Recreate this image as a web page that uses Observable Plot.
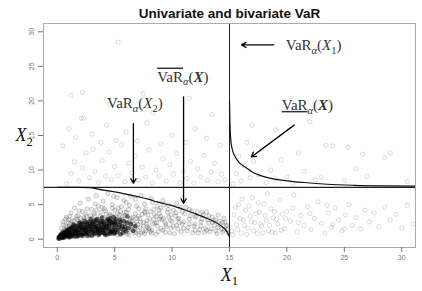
<!DOCTYPE html>
<html><head><meta charset="utf-8">
<script src="https://cdn.jsdelivr.net/npm/d3@7"></script>
<script src="https://cdn.jsdelivr.net/npm/@observablehq/plot@0.6"></script>
<style>body{margin:0;background:#fff}</style>
</head><body><div id="chart"></div>
<script>
const title = "Univariate and bivariate VaR";
const xTicks = [0, 5, 10, 15, 20, 25, 30];
const yTicks = [0, 5, 10, 15, 20, 25, 30];
const varX1 = 15, varX2 = 7.5;

// dense core of the sample
const corePts = [[0.1,0.1],[0.2,0.3],[0.3,0.2],[0.4,0.5],[0.5,0.3],[0.6,0.8],[0.7,0.4],[0.8,1.1],[0.9,0.6],[1.0,0.3],[1.0,1.4],[1.1,0.9],[1.2,0.5],[1.3,1.7],[1.4,1.1],[1.5,0.4],[1.5,2.0],[1.6,0.8],[1.7,1.4],[1.8,0.6],[1.9,2.3],[2.0,1.0],[2.1,1.8],[2.2,0.5],[2.3,1.3],[2.4,2.6],[2.5,0.8],[2.6,2.0],[2.7,1.5],[2.8,0.6],[2.9,2.9],[3.0,1.1],[3.1,2.2],[3.2,0.7],[3.3,1.7],[3.4,2.8],[3.5,1.2],[3.6,0.6],[3.7,2.4],[3.8,1.6],[3.9,3.1],[4.0,0.9],[4.1,2.0],[4.2,1.3],[4.3,2.7],[4.4,0.7],[4.5,1.8],[4.6,3.0],[4.7,1.1],[4.8,2.3],[4.9,0.8],[5.0,1.6],[5.1,2.9],[5.2,1.0],[5.4,2.1],[5.5,0.7],[5.6,1.5],[5.8,2.6],[6.0,1.1],[6.1,3.3],[0.3,0.6],[0.5,0.9],[0.6,0.2],[0.8,0.5],[0.9,1.3],[1.1,0.3],[1.2,1.6],[1.3,0.7],[1.4,2.1],[1.6,1.2],[1.7,0.4],[1.8,1.8],[1.9,0.9],[2.0,2.4],[2.1,0.6],[2.2,1.5],[2.3,2.2],[2.4,0.9],[2.5,1.7],[2.6,0.5],[2.7,2.5],[2.8,1.2],[2.9,1.9],[3.0,0.5],[3.1,1.4],[3.2,2.6],[3.3,0.9],[3.4,1.9],[3.5,2.9],[3.6,1.3],[3.7,0.8],[3.8,2.1],[3.9,1.0],[4.0,2.5],[4.1,1.5],[4.2,0.6],[4.3,1.9],[4.4,2.9],[4.5,1.2],[4.6,0.8],[4.7,2.5],[4.8,1.4],[4.9,3.2],[5.0,0.9],[5.1,2.0],[5.3,1.3],[5.5,2.5],[5.7,0.9],[5.9,1.8],[0.2,0.1],[0.4,0.2],[0.7,0.7],[1.0,0.8],[1.5,1.3],[2.0,1.6],[2.5,1.2],[3.0,1.8],[3.5,1.6],[4.0,1.7],[4.5,2.2],[5.0,2.2],
[0.15,0.35],[0.25,0.5],[0.35,0.75],[0.45,0.3],[0.55,1.0],[0.65,0.55],[0.75,1.25],[0.85,0.85],[0.95,0.45],[1.05,1.15],[1.15,1.6],[1.25,1.0],[1.35,0.45],[1.45,1.5],[1.55,0.9],[1.65,1.9],[1.75,1.15],[1.85,0.45],[1.95,1.9],[2.05,1.3],[2.15,2.2],[2.25,0.8],[2.35,1.7],[2.45,1.4],[2.55,2.3],[2.65,1.0],[2.75,1.8],[2.85,2.2],[2.95,1.4],[3.05,2.4],[3.15,1.0],[3.25,2.0],[3.35,1.4],[3.45,2.4],[3.55,0.9],[3.65,1.9],[3.75,1.4],[3.85,2.6],[3.95,1.3],[4.05,2.2],[4.15,0.8],[4.25,1.7],[4.35,2.3],[4.45,1.5],[4.55,2.7],[4.65,1.0],[4.75,2.0],[4.85,1.1],[4.95,2.6],[5.05,1.3],[5.15,2.4],[5.35,1.7],[5.45,2.8],[5.65,1.9],[5.85,1.4],[6.05,2.4],[6.2,1.6],[6.4,2.2],[6.6,1.2],[6.8,1.9]];

// body of the sample below the VaR levels
const midPts = [[0.5,2.5],[0.8,3.2],[1.0,2.8],[1.2,3.8],[1.5,4.5],[1.8,3.4],[2.0,5.2],[2.2,4.0],[2.5,3.6],[2.7,5.8],[3.0,4.3],[3.2,3.7],[3.4,6.3],[3.6,4.8],[3.8,3.9],[4.0,5.5],[4.2,4.1],[4.4,6.6],[4.6,3.6],[4.8,5.0],[5.0,4.2],[5.2,6.0],[5.4,3.5],[5.6,4.7],[5.8,5.6],[6.0,3.9],[6.2,2.4],[6.3,4.9],[6.5,1.4],[6.6,3.2],[6.8,5.8],[7.0,2.1],[7.1,4.4],[7.3,0.9],[7.4,3.6],[7.6,5.1],[7.8,2.7],[8.0,1.6],[8.1,4.0],[8.3,5.3],[8.5,2.3],[8.6,3.3],[8.8,1.1],[9.0,4.5],[9.1,2.8],[9.3,5.0],[9.5,1.8],[9.6,3.9],[9.8,0.9],[10.0,2.6],[10.1,4.2],[10.3,3.4],[10.5,1.5],[10.7,4.6],[10.9,2.2],[11.1,3.7],[11.3,1.2],[11.5,2.9],[11.7,4.1],[11.9,1.9],[12.1,3.3],[12.3,0.9],[12.5,2.5],[12.7,3.6],[12.9,1.6],[13.1,2.8],[13.3,1.1],[13.5,3.2],[13.7,2.0],[13.9,0.8],[14.1,2.6],[14.3,1.5],[14.5,3.0],[14.7,1.9],[14.9,0.9],[6.1,0.8],[6.4,2.0],[6.7,1.0],[6.9,3.0],[7.2,1.7],[7.5,2.4],[7.7,1.2],[7.9,3.5],[8.2,0.9],[8.4,2.9],[8.7,1.9],[8.9,3.7],[9.2,1.3],[9.4,2.4],[9.7,3.2],[9.9,1.6],[10.2,0.8],[10.4,2.0],[10.6,3.0],[10.8,1.1],[11.0,2.5],[11.2,4.6],[11.4,1.7],[11.6,3.4],[11.8,0.9],[12.0,2.2],[12.2,4.0],[12.4,1.4],[12.6,2.9],[12.8,1.0],[13.0,3.9],[13.2,2.3],[13.4,1.5],[13.6,2.7],[13.8,1.2],[14.0,3.5],[14.2,2.1],[14.4,1.0],[14.6,2.5],[14.8,1.4],[1.3,2.6],[1.7,2.9],[2.3,3.1],[2.9,3.4],[3.3,5.1],[3.9,4.6],[4.5,3.4],[4.9,6.2],[5.3,4.5],[5.7,3.3],[6.0,5.3],[6.4,6.2],[6.9,4.8],[7.3,6.3],[7.7,4.4],[8.2,5.9],[8.7,4.8],[9.2,5.6],[9.7,4.9],[10.4,5.2],[10.9,4.0],[11.5,4.3],[12.0,3.2],[12.6,3.9],[13.2,3.4],[13.8,2.8],[14.4,2.4],
[0.35,1.6],[0.55,2.1],[0.75,1.9],[0.95,2.4],[1.15,2.2],[1.45,2.7],[1.65,3.3],[1.85,2.6],[2.05,3.0],[2.35,2.8],[2.55,3.3],[2.85,2.4],[3.05,3.0],[3.25,3.4],[3.55,2.3],[3.75,3.3],[4.05,3.1],[4.25,3.6],[4.55,2.6],[4.75,3.4],[5.05,2.7],[5.25,3.7],[5.45,1.9],[5.65,2.9],[5.85,3.9],[6.05,2.3],[6.25,1.4],[6.45,3.0],[6.65,2.2],[6.85,0.9],[7.05,3.3],[7.25,2.5],[7.45,1.1],[7.65,3.8],[7.85,1.8],[8.05,2.9],[8.25,1.3],[8.45,3.6],[8.65,2.4],[8.85,4.2],[9.05,1.6],[9.25,3.0],[9.45,2.1],[9.65,4.3],[9.85,2.7],[10.1,1.9],[10.35,3.8],[10.6,2.4],[1.25,0.8],[1.75,1.0],[2.25,0.7],[2.75,0.9],[3.25,1.2],[3.75,1.1],[4.25,0.9],[4.75,1.6],[5.25,0.6],[5.75,1.3],[6.25,0.6],[6.75,1.6],[7.1,0.6],[7.6,0.8],[8.1,1.1],[8.6,0.7],[0.45,1.1],[0.65,1.4],[0.85,1.7],[1.05,1.9],[6.3,2.8],[6.6,1.8],[6.9,2.5],[7.2,3.0],[7.5,1.9],[7.8,2.2],[5.9,3.4],[5.2,3.1],[4.6,2.4],[3.9,2.6],[3.1,2.7],[2.4,2.0],[1.9,1.5],[5.6,2.2],[6.0,1.7],[6.5,2.6],[7.0,1.3],[7.9,1.5],[8.3,2.2],[8.9,2.9],[9.4,1.0],[9.9,3.5],[10.5,2.9],[11.0,1.6],[11.5,2.2],[12.0,1.3],[12.5,1.9],[13.0,1.3],[13.5,2.4],[14.0,1.7],[14.5,1.3],[14.8,2.0],[3.4,4.2],[4.1,4.4],[4.8,4.5],[5.5,4.0],[6.2,4.3],[6.8,3.7],[7.6,4.0],[8.4,4.3],[9.0,3.3],[2.6,4.4],[1.9,4.1],[1.1,3.3],[0.7,2.9]];

// sparse points (upper left, lower right, upper right)
const sparsePts = [[0.8,8.0],[1.2,9.5],[1.5,11.2],[1.9,8.4],[2.2,10.3],[2.5,12.5],[2.8,8.9],[3.1,13.0],[3.3,9.8],[3.6,8.2],[3.9,11.4],[4.2,9.1],[4.5,12.6],[4.7,8.6],[5.0,10.5],[5.3,9.2],[5.6,13.7],[5.9,8.3],[6.2,11.0],[6.5,9.6],[6.8,12.0],[7.1,8.5],[7.4,10.4],[7.7,9.0],[8.0,12.9],[8.3,8.1],[8.6,10.0],[8.9,9.2],[9.2,11.6],[9.5,8.4],[9.8,10.8],[10.1,9.4],[10.4,12.4],[10.7,8.2],[11.0,9.9],[11.3,8.8],[11.6,11.3],[11.9,8.1],[12.2,10.2],[12.5,9.0],[12.8,12.1],[13.1,8.5],[13.4,9.7],[13.7,11.0],[14.0,8.3],[14.3,9.4],[14.6,8.6],[0.5,13.5],[1.0,16.0],[1.6,14.7],[2.3,17.5],[3.0,15.2],[3.8,14.0],[4.3,16.5],[5.1,14.3],[6.0,15.5],[7.0,14.2],[7.8,16.8],[9.0,13.8],[10.0,15.0],[11.2,14.0],[12.0,16.0],[13.0,14.6],[14.2,13.6],[1.2,20.8],[4.5,19.5],[8.3,18.3],[11.5,20.4],[13.5,18.0],[5.3,28.5],[2.2,21.2],[2.1,17.5],[10.2,23.8],[7.5,21.0],
[15.2,1.2],[15.4,3.5],[15.6,2.1],[15.8,5.0],[16.0,0.9],[16.2,2.8],[16.4,4.2],[16.6,1.6],[16.8,3.3],[17.0,6.0],[17.2,2.4],[17.4,0.8],[17.6,3.9],[17.8,1.9],[18.0,5.1],[18.2,2.7],[18.4,1.2],[18.6,4.4],[18.8,3.1],[19.0,0.9],[19.2,2.2],[19.4,5.7],[19.6,3.6],[19.8,1.5],[20.0,4.0],[20.3,2.6],[20.6,6.4],[20.9,1.1],[21.2,3.4],[21.5,2.0],[21.8,4.7],[22.1,1.4],[22.4,3.0],[22.7,5.4],[23.0,2.3],[23.3,0.9],[23.6,3.8],[23.9,1.7],[24.2,4.5],[24.5,2.8],[24.8,1.2],[25.1,3.5],[25.4,5.0],[25.7,2.0],[26.0,3.1],[26.4,1.5],[26.8,4.2],[27.2,2.5],[27.6,3.8],[28.0,1.8],[28.5,4.6],[29.0,2.8],[29.5,3.6],[30.0,1.6],[30.5,4.9],[31.0,2.2],[15.3,0.6],[15.5,4.6],[15.7,1.4],[15.9,3.0],[16.1,5.8],[16.3,2.0],[16.5,0.7],[16.7,4.8],[16.9,2.5],[17.1,1.2],[17.3,3.7],[17.5,5.3],[17.7,2.2],[17.9,0.9],[18.1,3.4],[18.3,6.6],[18.5,2.0],[18.7,1.0],[18.9,4.0],[19.1,2.9],[19.5,1.3],[19.9,3.0],[20.5,4.5],[21.0,2.4],[22.0,3.7],[23.5,4.9],[24.0,2.1],[25.0,1.5],
[15.3,8.0],[15.6,9.5],[15.8,12.0],[16.0,8.4],[16.3,10.6],[16.5,14.0],[16.8,8.9],[17.1,11.3],[17.5,9.3],[17.8,13.0],[18.2,8.2],[18.6,10.0],[19.0,8.7],[19.5,11.5],[20.0,9.0],[20.5,8.1],[21.0,12.5],[21.5,9.8],[22.5,8.6],[23.0,9.0],[24.0,13.5],[25.0,8.5],[26.0,10.2],[27.0,9.1],[28.5,11.8],[30.5,8.3],[22.0,17.0],[19.0,15.8],[17.0,16.5],[23.4,13.6],[25.3,13.3],[26.6,12.3],[29.0,12.5]];

// bivariate VaR curves
const upperX = [15.0, 15.03, 15.09, 15.2, 15.5, 15.9, 16.3, 17.1, 18.6, 20.0, 21.5, 23.5, 25.9, 28.5, 31.2];
const upperY = [20.0, 17.5, 14.8, 13.3, 11.9, 11.0, 10.5, 9.6, 8.8, 8.45, 8.2, 7.95, 7.8, 7.72, 7.68];
const lowerX = [0, 1, 2, 2.85, 4, 5, 5.76, 7, 8, 8.68, 10, 11, 12, 13.05, 14.2, 14.8, 15.0];
const lowerY = [7.5, 7.5, 7.5, 7.45, 7.1, 6.85, 6.6, 6.15, 5.75, 5.4, 4.85, 4.3, 3.7, 3.0, 2.0, 1.06, 0.3];

// annotations
const annoLabels = ["VaR_α(X_1)", "_VaR_α(X)", "^VaR_α(X)", "VaR_α(X_2)"];
const annoX = [19.9, 19.55, 8.7, 4.33];
const annoY = [28.1, 19.4, 23.5, 19.7];
const arrX1 = [18.85, 20.63, 11.0, 6.63];
const arrY1 = [28.1, 16.5, 20.6, 16.7];
const arrX2 = [16.05, 16.9, 11.0, 6.63];
const arrY2 = [28.1, 11.9, 5.2, 8.1];

const upper = upperX.map((x, i) => ({x, y: upperY[i]}));
const lower = lowerX.map((x, i) => ({x, y: lowerY[i]}));
const annos = annoLabels.map((l, i) => ({l, x: annoX[i], y: annoY[i]}));
const arrows = arrX1.map((x1, i) => ({x1, y1: arrY1[i], x2: arrX2[i], y2: arrY2[i]}));
const px = d => d[0], py = d => d[1];

const svg = Plot.plot({
  width: 422, height: 291,
  marginLeft: 43, marginRight: 7, marginTop: 23, marginBottom: 44,
  x: {domain: [-1.2, 31.2]},
  y: {domain: [-1.2, 31.2]},
  style: {background: "#fff", fontFamily: "Liberation Sans, Arial, sans-serif"},
  marks: [
    Plot.dot(sparsePts, {x: px, y: py, r: 2.1, stroke: "#000", strokeOpacity: 0.2, strokeWidth: 0.7, fill: "none"}),
    Plot.dot(midPts, {x: px, y: py, r: 2.1, stroke: "#000", strokeOpacity: 0.25, strokeWidth: 0.7, fill: "#000", fillOpacity: 0.08}),
    Plot.dot(corePts, {x: px, y: py, r: 2.4, fill: "#000", fillOpacity: 0.55, stroke: "none"}),
    Plot.ruleX([varX1], {stroke: "#222", strokeWidth: 1}),
    Plot.ruleY([varX2], {stroke: "#222", strokeWidth: 1.1}),
    Plot.line(upper, {x: "x", y: "y", curve: "monotone-x", stroke: "#111", strokeWidth: 1.2}),
    Plot.line(lower, {x: "x", y: "y", curve: "monotone-x", stroke: "#111", strokeWidth: 1.2}),
    Plot.arrow(arrows, {x1: "x1", y1: "y1", x2: "x2", y2: "y2", stroke: "#000", strokeWidth: 1.3, headLength: 6, headAngle: 60}),
    Plot.text(annos, {x: "x", y: "y", text: "l", textAnchor: "start", fontSize: 15, fontFamily: "Liberation Serif, serif", fill: "#333"}),
    Plot.frame({stroke: "#aaa"}),
    Plot.axisX({ticks: xTicks, tickSize: 5, tickPadding: 3, fontSize: 7, color: "#777", label: null}),
    Plot.axisY({ticks: yTicks, tickSize: 5, tickFormat: () => "", color: "#777", label: null}),
    Plot.text(yTicks, {y: d => d, frameAnchor: "left", dx: -12, rotate: -90, text: d => String(d), fontSize: 7, fill: "#777", textAnchor: "middle"}),
    Plot.text(["X_1"], {frameAnchor: "bottom", dy: 33, text: d => d, fontSize: 18, fontFamily: "Liberation Serif, serif", fill: "#111"}),
    Plot.text(["X_2"], {frameAnchor: "left", dx: -28, text: d => d, fontSize: 18, fontFamily: "Liberation Serif, serif", fill: "#111"}),
    Plot.text([title], {frameAnchor: "top", dy: -15, text: d => d, fontSize: 13.5, fontWeight: "bold", fill: "#111"})
  ]
});

const NS = "http://www.w3.org/2000/svg";
function rich(t, s, size) {
  let deco = null;
  if (s[0] === "_") { deco = "underline"; s = s.slice(1); }
  else if (s[0] === "^") { deco = "overline"; s = s.slice(1); }
  const m = s.match(/^(VaR_α\()?X(?:_(\d))?(\))?$/);
  if (!m) return;
  t.textContent = "";
  const sh = (size * 0.25).toFixed(1);
  const add = (txt, attrs) => {
    const ts = document.createElementNS(NS, "tspan");
    ts.textContent = txt;
    for (const k in attrs) ts.setAttribute(k, attrs[k]);
    t.appendChild(ts);
  };
  if (m[1]) {
    add("VaR", deco ? {"text-decoration": deco} : {});
    add("α", {dy: sh, "font-size": (size * 0.7) + "px", "font-style": "italic"});
    add("(", {dy: -sh});
  }
  if (m[2]) {
    add("X", {"font-style": "italic"});
    add(m[2], {dy: sh, "font-size": (size * 0.7) + "px"});
    if (m[3]) add(")", {dy: -sh});
  } else {
    add("X", {"font-style": "italic", "font-weight": "bold"});
    if (m[3]) add(")", {});
  }
}
svg.querySelectorAll("text").forEach(t => {
  const s = t.textContent;
  if (/X/.test(s) && !/Univariate/.test(s)) {
    const size = parseFloat(t.closest("g").getAttribute("font-size")) || 13;
    rich(t, s, size);
  }
});
document.getElementById("chart").appendChild(svg);
</script>
</body></html>
